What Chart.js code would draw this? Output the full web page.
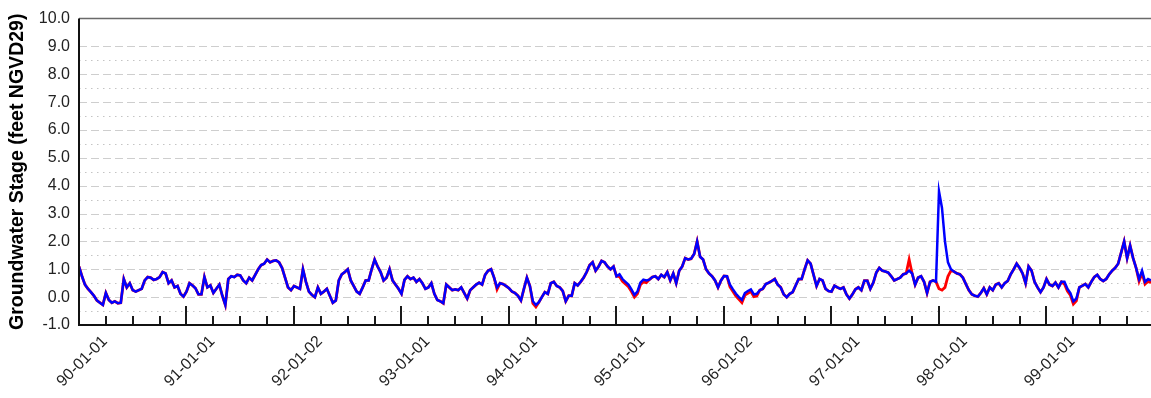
<!DOCTYPE html>
<html><head><meta charset="utf-8">
<script src="https://cdn.jsdelivr.net/npm/chart.js@4.4.1/dist/chart.umd.min.js"></script>
<style>html,body{margin:0;padding:0;background:#fff;overflow:hidden}</style>
</head><body>
<canvas id="c" width="1151" height="398"></canvas>
<script>
// ---- data ----
const startYear = 1990;          // first sample: 1990-01-01
const samplesPerYear = 36;       // roughly every 10 days
const xTickLabels = ["90-01-01","91-01-01","92-01-02","93-01-01","94-01-01","95-01-01","96-01-02","97-01-01","98-01-01","99-01-01"];
const xTickYears = [1990,1991,1992,1993,1994,1995,1996,1997,1998,1999];
const yTickValues = [-1,0,1,2,3,4,5,6,7,8,9,10];
const yTitle = "Groundwater Stage (feet NGVD29)";

const blueStage = [
1.1,0.75,0.45,0.3,0.18,0.05,-0.12,-0.2,-0.28,0.15,
-0.1,-0.2,-0.15,-0.22,-0.2,0.65,0.35,0.5,0.25,0.2,
0.25,0.3,0.6,0.72,0.7,0.62,0.65,0.72,0.9,0.85,
0.5,0.6,0.35,0.4,0.12,0.02,0.2,0.5,0.42,0.32,
0.1,0.1,0.72,0.35,0.42,0.15,0.3,0.45,0.05,-0.28,
0.65,0.75,0.72,0.8,0.78,0.6,0.5,0.7,0.6,0.8,
1.0,
1.15,1.2,1.35,1.25,1.3,1.32,1.25,1.05,0.7,0.35,
0.25,0.4,0.35,0.3,1.0,0.55,0.2,0.08,0.0,0.35,
0.12,0.2,0.3,0.05,-0.2,-0.12,0.6,0.82,0.9,1.0,
0.6,0.4,0.2,0.12,0.35,0.6,0.6,1.0,1.35,1.1,
0.9,0.6,0.7,1.0,0.6,0.45,0.3,0.12,0.62,0.75,
0.65,0.7,0.55,0.65,0.5,0.3,0.35,0.5,0.12,-0.1,
-0.15,-0.22,0.45,0.35,0.25,0.28,0.25,0.35,0.15,-0.05,
0.25,0.35,0.45,0.52,0.45,0.8,0.95,1.0,0.7,0.35,
0.5,0.47,0.4,0.32,0.2,0.15,0.05,-0.12,0.3,0.7,
0.4,-0.15,-0.28,-0.18,0.0,0.18,0.12,0.5,0.55,0.4,
0.35,0.22,-0.15,0.05,0.05,0.5,0.42,0.55,0.7,0.9,
1.15,1.25,0.95,1.1,1.3,1.25,1.1,1.0,1.1,0.75,
0.82,0.65,0.55,0.45,0.28,0.08,0.2,0.52,0.63,0.6,
0.63,0.72,0.75,0.65,0.8,0.72,0.9,0.6,0.85,0.5,
0.95,1.1,1.4,1.35,1.38,1.55,2.0,1.45,1.35,1.0,
0.85,0.75,0.6,0.35,0.6,0.76,0.75,0.45,0.28,0.12,
0.0,-0.1,0.15,0.22,0.28,0.1,0.12,0.25,0.3,0.47,
0.52,0.58,0.65,0.45,0.35,0.1,0.0,0.12,0.18,0.42,0.65,
0.65,1.0,1.32,1.2,0.8,0.4,0.65,0.6,0.3,0.22,
0.2,0.41,0.35,0.3,0.35,0.1,-0.05,0.1,0.28,0.35,
0.25,0.59,0.59,0.3,0.52,0.88,1.05,0.95,0.92,0.88,
0.75,0.6,0.65,0.7,0.82,0.85,0.95,0.85,0.45,0.7,
0.75,0.55,0.15,0.55,0.6,0.55,3.8,3.2,2.0,1.25,
1.0,0.92,0.85,0.82,0.7,0.47,0.25,0.1,0.05,0.02,
0.15,0.32,0.1,0.35,0.25,0.45,0.5,0.35,0.5,0.58,
0.82,1.0,1.2,1.05,0.85,0.5,1.1,0.95,0.55,0.35,
0.18,0.35,0.65,0.45,0.4,0.52,0.35,0.55,0.55,0.3,
0.15,-0.15,-0.05,0.35,0.41,0.47,0.35,0.55,0.72,0.8,
0.65,0.58,0.65,0.82,0.95,1.05,1.2,1.6,2.0,1.4,
1.85,1.4,1.05,0.65,0.95,0.55,0.65,0.6
];

const redStage = [
1.1,0.75,0.45,0.3,0.18,0.05,-0.12,-0.2,-0.28,0.15,
-0.1,-0.2,-0.15,-0.22,-0.2,0.65,0.35,0.5,0.25,0.2,
0.25,0.3,0.6,0.72,0.7,0.62,0.65,0.72,0.9,0.85,
0.5,0.6,0.35,0.4,0.12,0.02,0.2,0.5,0.42,0.32,
0.1,0.1,0.72,0.35,0.42,0.15,0.3,0.45,0.05,-0.28,
0.65,0.75,0.72,0.8,0.78,0.6,0.5,0.7,0.6,0.8,
1.0,
1.15,1.2,1.35,1.25,1.3,1.32,1.25,1.05,0.7,0.35,
0.25,0.4,0.35,0.3,1.0,0.55,0.2,0.08,0.0,0.35,
0.12,0.2,0.3,0.05,-0.2,-0.12,0.6,0.82,0.9,1.0,
0.6,0.4,0.2,0.12,0.35,0.6,0.6,1.0,1.35,1.1,
0.9,0.6,0.7,1.0,0.6,0.45,0.3,0.12,0.62,0.75,
0.65,0.7,0.55,0.65,0.5,0.3,0.35,0.5,0.12,-0.1,
-0.15,-0.22,0.45,0.35,0.25,0.28,0.25,0.35,0.15,-0.05,
0.25,0.35,0.45,0.52,0.45,0.8,0.95,1.0,0.7,0.28,
0.5,0.47,0.4,0.32,0.2,0.15,0.05,-0.12,0.3,0.7,
0.4,-0.22,-0.35,-0.18,0.0,0.18,0.12,0.5,0.55,0.4,
0.35,0.22,-0.15,0.05,0.05,0.5,0.42,0.55,0.7,0.9,
1.15,1.25,0.95,1.1,1.3,1.25,1.1,1.0,1.1,0.75,
0.74,0.57,0.47,0.37,0.2,0.0,0.12,0.44,0.55,0.52,
0.63,0.72,0.75,0.65,0.8,0.72,0.9,0.6,0.85,0.5,
0.95,1.1,1.4,1.35,1.38,1.55,2.0,1.45,1.35,1.0,
0.85,0.75,0.6,0.35,0.6,0.76,0.75,0.37,0.2,0.04,
-0.08,-0.2,0.07,0.14,0.2,0.02,0.04,0.25,0.3,0.47,
0.52,0.58,0.65,0.45,0.35,0.1,0.0,0.12,0.18,0.42,0.65,
0.65,1.0,1.32,1.2,0.8,0.4,0.65,0.6,0.3,0.22,
0.2,0.41,0.35,0.3,0.35,0.1,-0.05,0.1,0.28,0.35,
0.25,0.59,0.59,0.3,0.52,0.88,1.05,0.95,0.92,0.88,
0.75,0.6,0.65,0.7,0.82,0.85,1.35,0.85,0.45,0.7,
0.75,0.55,0.15,0.55,0.6,0.55,0.3,0.25,0.35,0.75,
0.95,0.92,0.85,0.82,0.7,0.47,0.25,0.1,0.05,0.02,
0.15,0.32,0.1,0.35,0.25,0.45,0.5,0.35,0.5,0.58,
0.82,1.0,1.2,1.05,0.85,0.5,1.1,0.95,0.55,0.35,
0.18,0.35,0.65,0.45,0.4,0.52,0.35,0.55,0.47,0.22,
0.07,-0.25,-0.13,0.35,0.41,0.47,0.35,0.55,0.72,0.8,
0.65,0.58,0.65,0.82,0.95,1.05,1.2,1.6,2.0,1.4,
1.85,1.4,1.05,0.57,0.87,0.47,0.57,0.52
];

const sampleYears = blueStage.map((_, i) => startYear + i / samplesPerYear);
const toPoints = arr => arr.map((v, i) => ({x: sampleYears[i], y: v}));

const FONT = "'Liberation Sans', Arial, Helvetica, sans-serif";

const framePlugin = {
  id: 'frame',
  beforeDatasetsDraw(chart) {
    const {ctx, chartArea: a, scales: {y}} = chart;
    ctx.save();
    ctx.lineWidth = 1;
    for (let k = -1; k <= 19; k++) {
      const v = -0.5 + k * 0.5;
      if (v >= 10) continue;
      const py = Math.round(y.getPixelForValue(v)) + 0.5;
      const major = Math.abs(v - Math.round(v)) < 1e-6;
      ctx.setLineDash(major ? [8, 4] : [1.5, 4.5]);
      ctx.strokeStyle = major ? '#cecece' : '#c4c4c4';
      ctx.beginPath(); ctx.moveTo(a.left, py); ctx.lineTo(a.right, py); ctx.stroke();
    }
    ctx.restore();
  },
  afterDatasetsDraw(chart) {
    const {ctx, chartArea: a, scales: {x}} = chart;
    ctx.save();
    ctx.strokeStyle = '#1a1a1a';
    ctx.lineWidth = 2;
    for (let k = 1; k < 40; k++) {
      const q = startYear + k * 0.25;
      if (q > x.max) break;
      const px = Math.round(x.getPixelForValue(q));
      const long = k % 4 === 0;
      ctx.beginPath(); ctx.moveTo(px, a.bottom); ctx.lineTo(px, a.bottom - (long ? 19 : 9)); ctx.stroke();
    }
    // top border
    ctx.strokeStyle = '#6a6a6a'; ctx.lineWidth = 1.5;
    ctx.beginPath(); ctx.moveTo(a.left, a.top); ctx.lineTo(a.right, a.top); ctx.stroke();
    // axes
    ctx.strokeStyle = '#111'; ctx.lineWidth = 2;
    ctx.beginPath(); ctx.moveTo(a.left, a.top); ctx.lineTo(a.left, a.bottom); ctx.lineTo(a.right, a.bottom); ctx.stroke();
    ctx.restore();
  }
};

new Chart(document.getElementById('c'), {
  type: 'line',
  data: {
    datasets: [
      {label: 'Stage (blue)', data: toPoints(blueStage), borderColor: '#0000ff', borderWidth: 2.5, pointRadius: 0, tension: 0, order: 0},
      {label: 'Stage (red)', data: toPoints(redStage), borderColor: '#ff0000', borderWidth: 2.8, pointRadius: 0, tension: 0, order: 1}
    ]
  },
  options: {
    responsive: false,
    animation: false,
    devicePixelRatio: 1,
    layout: {padding: {top: 13, right: 0, left: 0, bottom: 0}},
    plugins: {legend: {display: false}, tooltip: {enabled: false}},
    scales: {
      x: {
        type: 'linear',
        min: startYear,
        max: startYear + 1072 / 107.5,
        afterBuildTicks: s => { s.ticks = xTickYears.map(v => ({value: v})); },
        afterFit: s => { s.height = 73; },
        ticks: {
          autoSkip: false, minRotation: 45, maxRotation: 45, labelOffset: 26, padding: 7,
          color: '#222', font: {family: FONT, size: 16},
          callback: (v, i) => xTickLabels[i]
        },
        grid: {display: false, drawTicks: false},
        border: {display: false}
      },
      y: {
        min: -1, max: 10,
        afterBuildTicks: s => { s.ticks = yTickValues.map(v => ({value: v})); },
        afterFit: s => { s.width = 79; },
        ticks: {padding: 9, color: '#222', font: {family: FONT, size: 16}, callback: v => Number(v).toFixed(1)},
        grid: {display: false, drawTicks: false},
        border: {display: false},
        title: {display: true, text: yTitle, color: '#000', font: {family: FONT, size: 19.5, weight: 'bold'}, padding: {top: 6, bottom: 0}}
      }
    }
  },
  plugins: [framePlugin]
});
</script>
</body></html>
